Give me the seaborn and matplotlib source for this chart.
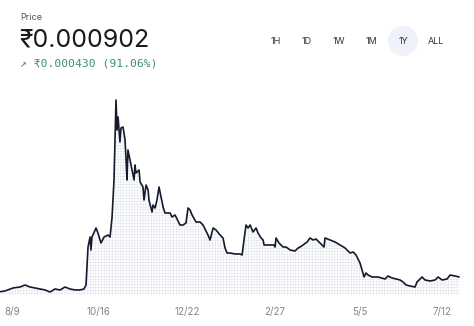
import matplotlib
matplotlib.use("Agg")
import matplotlib.pyplot as plt
import seaborn as sns
import pandas as pd
from matplotlib.patches import Ellipse

# ---- data (days since start of 1Y window, price in INR) ----
days = [0, 3.9, 10.2, 15.7, 19.7, 23.6, 31.4, 35.4, 39.3, 43.2, 47.2, 51.1, 55.0, 59.0,
        62.9, 66.0, 67.6, 69.2, 70.8, 71.5, 72.3, 75.5, 77.0, 79.4, 81.8, 84.9, 86.5,
        88.1, 89.6, 91.2, 92.0, 92.8, 94.3, 95.1, 96.7, 98.3, 99.1, 99.8, 100.6, 103.0,
        105.4, 106.1, 106.9, 109.3, 110.1, 112.4, 113.2, 114.8, 116.4, 117.1, 119.5,
        120.3, 121.9, 123.4, 125.0, 126.6, 128.2, 129.7, 133.7, 135.2, 137.6, 141.5,
        143.9, 146.2, 147.8, 149.4, 151.0, 154.1, 157.2, 159.6, 163.5, 165.1, 167.5,
        169.8, 173.0, 175.3, 176.9, 178.5, 180.8, 184.8, 188.7, 190.3, 191.8, 193.4,
        195.0, 196.6, 198.9, 201.3, 202.8, 205.2, 206.8, 207.6, 209.1, 212.3, 215.4,
        216.2, 217.0, 219.3, 222.5, 224.9, 228.0, 231.9, 234.3, 235.9, 238.2, 241.4,
        243.7, 246.1, 248.4, 251.6, 254.7, 255.5, 259.4, 263.4, 267.3, 271.2, 275.2,
        277.5, 279.9, 283.0, 284.6, 286.2, 287.7, 289.3, 292.5, 297.2, 302.7, 305.0,
        308.2, 314.5, 316.8, 319.2, 322.3, 326.3, 327.8, 329.4, 331.8, 334.1, 338.1,
        342.0, 344.4, 347.5, 351.4, 353.8, 357.7, 360.9]

price = [0.000472, 0.000492, 0.000580, 0.000609, 0.000668, 0.000609, 0.000551, 0.000522,
         0.000463, 0.000551, 0.000522, 0.000609, 0.000551, 0.000522, 0.000522, 0.000551,
         0.000668, 0.001779, 0.002072, 0.001692, 0.002072, 0.002335, 0.002189, 0.001896,
         0.002072, 0.002130, 0.002072, 0.002657, 0.003739, 0.006079, 0.005202, 0.005582,
         0.004851, 0.005260, 0.005289, 0.004909, 0.004324, 0.003739, 0.004617, 0.004178,
         0.003739, 0.004178, 0.003944, 0.004032, 0.003681, 0.003534, 0.003154, 0.003593,
         0.003447, 0.003154, 0.002803, 0.003008, 0.002920, 0.003154, 0.003534, 0.003242,
         0.002949, 0.002774, 0.002774, 0.002657, 0.002715, 0.002423, 0.002423, 0.002481,
         0.002920, 0.002862, 0.002715, 0.002511, 0.002511, 0.002423, 0.002130, 0.001984,
         0.002335, 0.002277, 0.002130, 0.002043, 0.001750, 0.001604, 0.001604, 0.001575,
         0.001575, 0.001545, 0.001984, 0.002423, 0.002335, 0.002423, 0.002218, 0.002335,
         0.002189, 0.002043, 0.001984, 0.001838, 0.001838, 0.001838, 0.001838, 0.001779,
         0.002043, 0.001896, 0.001779, 0.001779, 0.001692, 0.001662, 0.001750, 0.001779,
         0.001838, 0.001926, 0.002043, 0.001984, 0.002013, 0.001896, 0.001779, 0.002043,
         0.001984, 0.001926, 0.001838, 0.001750, 0.001604, 0.001633, 0.001545, 0.001311,
         0.001107, 0.000902, 0.001019, 0.000960, 0.000902, 0.000902, 0.000843, 0.000931,
         0.000873, 0.000814, 0.000756, 0.000668, 0.000639, 0.000609, 0.000756, 0.000814,
         0.000902, 0.000814, 0.000785, 0.000814, 0.000902, 0.000814, 0.000843, 0.000960,
         0.000931, 0.000902]

tick_days = [9.4, 77.0, 147.0, 216.2, 283.0, 347.5]
tick_labels = ["8/9", "10/16", "12/22", "2/27", "5/5", "7/12"]
ranges = ["1H", "1D", "1W", "1M", "1Y", "ALL"]

df = pd.DataFrame({"day": days, "price": price})

sns.set_theme(style="white")
plt.rcParams["font.family"] = ["Inter", "DejaVu Sans"]
plt.rcParams["hatch.linewidth"] = 0.35

fig = plt.figure(figsize=(4.74, 3.26), dpi=100)
fig.patch.set_facecolor("white")
ax = fig.add_axes([0, 0.0951, 1, 0.6288])

base = 0.000375
ax.fill_between(df["day"], df["price"], base, facecolor="white",
                hatch="++++++", edgecolor="#dfe2ea", linewidth=0)
sns.lineplot(data=df, x="day", y="price", ax=ax, color="#151a2d", linewidth=1.2)

ax.set_xlim(0, 372.6)
ax.set_ylim(base, 0.0063715)
for s in ax.spines.values():
    s.set_visible(False)
ax.set_yticks([])
ax.set_xticks(tick_days)
ax.set_xticklabels(tick_labels, fontsize=7, color="#858585")
ax.tick_params(axis="x", length=0, pad=9)
ax.set_xlabel("")
ax.set_ylabel("")

# Header
fig.text(20 / 474, 1 - 17 / 326, "Price", fontsize=6.5, color="#555555", va="center", ha="left")
fig.text(19 / 474, 1 - 40 / 326, "₹0.000902", fontsize=18, color="#1a1a1a", va="center", ha="left")
fig.text(20 / 474, 1 - 63 / 326, "↗ ₹0.000430 (91.06%)", fontsize=8.2, color="#3f8f6b",
         va="center", ha="left", family=["DejaVu Sans Mono", "DejaVu Sans"])

# Range buttons
btn_x = [276, 307, 339, 371, 403, 436]
pill = Ellipse((403 / 474, 1 - 41 / 326), 30 / 474, 30 / 326, transform=fig.transFigure,
               facecolor="#eff2fa", edgecolor="none")
fig.patches.append(pill)
for bx, lab in zip(btn_x, ranges):
    fig.text(bx / 474, 1 - 41 / 326, lab, fontsize=6.5, color="#333333", va="center", ha="center")

fig.savefig("out.png", dpi=100, facecolor="white")
